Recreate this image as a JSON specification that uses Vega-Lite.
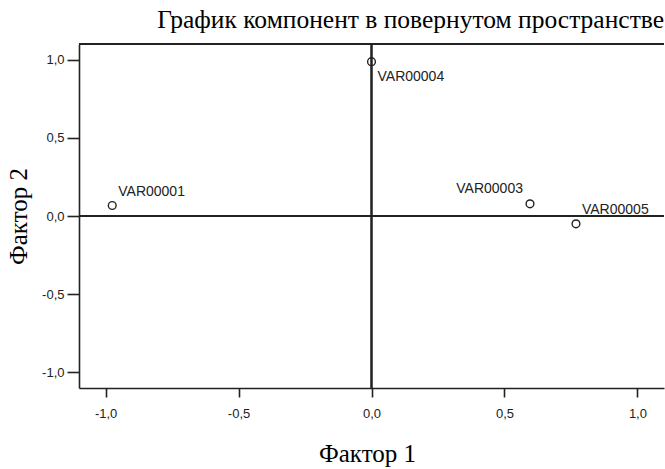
{
  "$schema": "https://vega.github.io/schema/vega-lite/v6.json",
  "width": 585,
  "height": 344,
  "autosize": "none",
  "padding": {"left": 79, "top": 44, "right": 1, "bottom": 81},
  "background": "white",
  "title": {
    "text": "График компонент в повернутом пространстве",
    "anchor": "end",
    "frame": "group",
    "font": "Liberation Serif",
    "fontSize": 25.5,
    "fontWeight": "normal",
    "color": "black",
    "baseline": "alphabetic",
    "offset": 15,
    "dy": 25
  },
  "config": {
    "view": {"stroke": null},
    "axis": {
      "grid": false,
      "domainColor": "#222222",
      "domainWidth": 1.6,
      "tickColor": "#222222",
      "tickWidth": 1.6,
      "labelFont": "Liberation Sans",
      "labelFontSize": 13,
      "labelColor": "#222222",
      "titleFont": "Liberation Serif",
      "titleFontSize": 25,
      "titleFontWeight": "normal",
      "titleColor": "black"
    }
  },
  "data": {
    "values": [
      {"name": "VAR00001", "f1": -0.975, "f2": 0.067},
      {"name": "VAR00004", "f1": 0.0, "f2": 0.987},
      {"name": "VAR00003", "f1": 0.596, "f2": 0.078},
      {"name": "VAR00005", "f1": 0.769, "f2": -0.05}
    ]
  },
  "layer": [
    {
      "mark": {"type": "rule", "color": "#222222", "strokeWidth": 1.6},
      "encoding": {"x": {"datum": 0, "type": "quantitative"}}
    },
    {
      "mark": {"type": "rule", "color": "#222222", "strokeWidth": 1.6},
      "encoding": {"y": {"datum": 0, "type": "quantitative"}}
    },
    {
      "mark": {"type": "rule", "color": "#222222", "strokeWidth": 1.6},
      "encoding": {"y": {"datum": 1.1, "type": "quantitative"}}
    },
    {
      "mark": {"type": "point", "shape": "circle", "filled": false, "color": "#222222", "size": 60, "strokeWidth": 1.4, "opacity": 1},
      "encoding": {
        "x": {
          "field": "f1", "type": "quantitative",
          "scale": {"domain": [-1.1, 1.1], "nice": false, "zero": false},
          "axis": {
            "title": "Фактор 1",
            "values": [-1, -0.5, 0, 0.5, 1],
            "labelExpr": "replace(replace(format(datum.value, '.1f'), '.', ','), '\u2212', '-')",
            "tickSize": 9,
            "labelPadding": 10,
            "titleX": 288,
            "titleY": 73,
            "titleAlign": "center",
            "titleBaseline": "alphabetic"
          }
        },
        "y": {
          "field": "f2", "type": "quantitative",
          "scale": {"domain": [-1.1, 1.1], "nice": false, "zero": false},
          "axis": {
            "title": "Фактор 2",
            "values": [-1, -0.5, 0, 0.5, 1],
            "labelExpr": "replace(replace(format(datum.value, '.1f'), '.', ','), '\u2212', '-')",
            "tickSize": 12,
            "labelPadding": 3,
            "titleX": -61,
            "titleY": 172,
            "titleAngle": -90,
            "titleAlign": "center",
            "titleBaseline": "middle"
          }
        }
      }
    },
    {
      "transform": [{"filter": "datum.name == 'VAR00001'"}],
      "mark": {"type": "text", "align": "left", "baseline": "middle", "dx": 6, "dy": -14, "font": "Liberation Sans", "fontSize": 14, "color": "#222222"},
      "encoding": {"x": {"field": "f1", "type": "quantitative"}, "y": {"field": "f2", "type": "quantitative"}, "text": {"field": "name"}}
    },
    {
      "transform": [{"filter": "datum.name == 'VAR00004'"}],
      "mark": {"type": "text", "align": "left", "baseline": "middle", "dx": 6, "dy": 15, "font": "Liberation Sans", "fontSize": 14, "color": "#222222"},
      "encoding": {"x": {"field": "f1", "type": "quantitative"}, "y": {"field": "f2", "type": "quantitative"}, "text": {"field": "name"}}
    },
    {
      "transform": [{"filter": "datum.name == 'VAR00003'"}],
      "mark": {"type": "text", "align": "right", "baseline": "middle", "dx": -7, "dy": -15, "font": "Liberation Sans", "fontSize": 14, "color": "#222222"},
      "encoding": {"x": {"field": "f1", "type": "quantitative"}, "y": {"field": "f2", "type": "quantitative"}, "text": {"field": "name"}}
    },
    {
      "transform": [{"filter": "datum.name == 'VAR00005'"}],
      "mark": {"type": "text", "align": "left", "baseline": "middle", "dx": 6, "dy": -14, "font": "Liberation Sans", "fontSize": 14, "color": "#222222"},
      "encoding": {"x": {"field": "f1", "type": "quantitative"}, "y": {"field": "f2", "type": "quantitative"}, "text": {"field": "name"}}
    }
  ]
}
